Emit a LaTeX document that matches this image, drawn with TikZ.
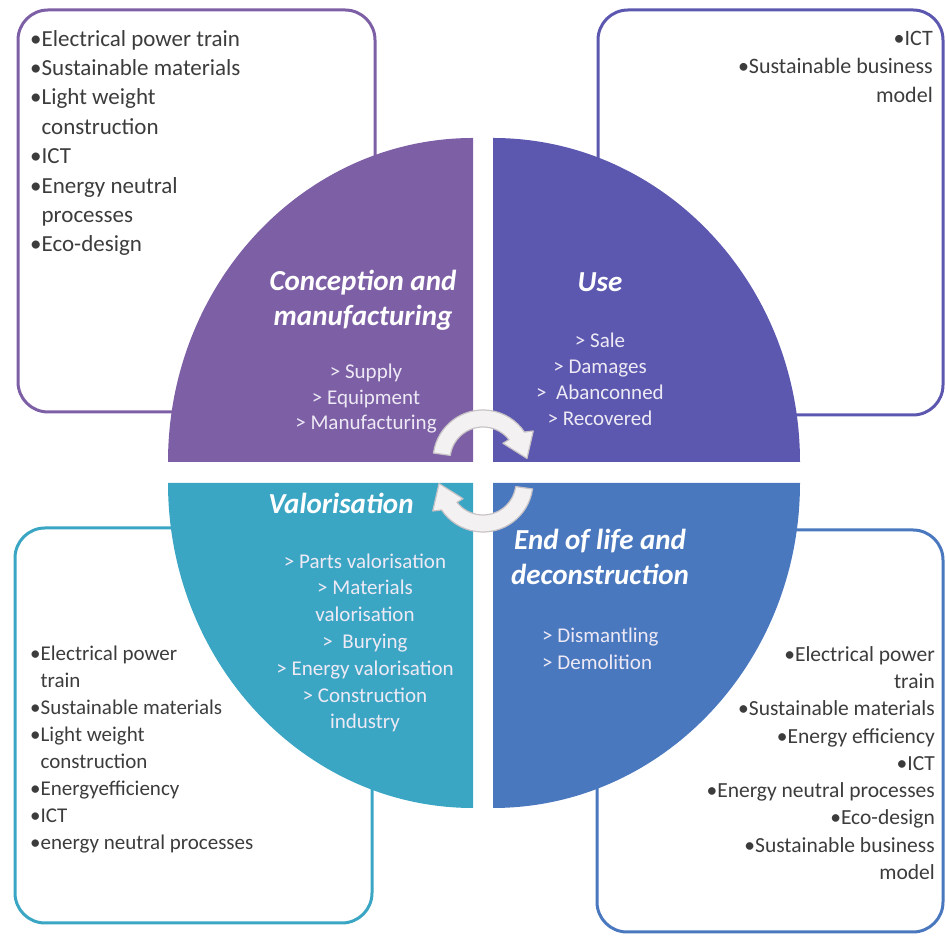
\documentclass[tikz,border=0pt]{standalone}
\usepackage{fontspec}
\setmainfont{Carlito}
\definecolor{conceptcol}{HTML}{7D5FA6}
\definecolor{usecol}{HTML}{5C58B0}
\definecolor{valocol}{HTML}{3BA6C4}
\definecolor{eolcol}{HTML}{4A78BF}
\definecolor{listgray}{HTML}{3C3C3C}
\definecolor{sublight}{HTML}{EEEAF5}
\definecolor{arrowedge}{HTML}{C8C3C6}
\definecolor{arrowface}{HTML}{F4F1F2}
\begin{document}
\begin{tikzpicture}[x=1pt,y=1pt,
        frame/.style={line width=3pt,rounded corners=30pt},
        title/.style={font=\fontsize{29}{35}\selectfont\bfseries\itshape,text=white,align=center,inner sep=0pt},
        steps/.style={font=\fontsize{21}{#1}\selectfont,text=sublight,inner sep=0pt},
        list/.style={text=listgray,inner sep=0pt},
        turn/.style={fill=arrowface,draw=arrowedge,line width=1.2pt,line join=round}]
        \useasboundingbox (0,0) rectangle (946,936);
        % frames behind the disc
        \draw[frame,draw=conceptcol] (18,524) rectangle (375,926);
        \draw[frame,draw=usecol] (598,521) rectangle (943,926);
        \draw[frame,draw=valocol] (15,13) rectangle (372,408);
        \draw[frame,draw=eolcol] (597,4) rectangle (943,406);
        % four quarters
        \fill[conceptcol] (473,474) -- (168,474) arc[start angle=180,end angle=90,x radius=305,y radius=324] -- cycle;
        \fill[usecol] (493,474) -- (493,798) arc[start angle=90,end angle=0,x radius=307,y radius=324] -- cycle;
        \fill[valocol] (473,453) -- (473,128) arc[start angle=270,end angle=180,x radius=305,y radius=325] -- cycle;
        \fill[eolcol] (493,453) -- (800,453) arc[start angle=0,end angle=-90,x radius=307,y radius=325] -- cycle;
        % conception and manufacturing
        \node[title] (concept) at (363,636) {Conception and\\manufacturing};
        \node[steps=25.5,align=center] (conceptsteps) at (366,537) {> Supply\\> Equipment\\> Manufacturing};
        \node[list,font=\fontsize{23}{29.4}\selectfont,anchor=north west,align=left] (conceptlist) at (30,906) {\textbullet Electrical power train\\\textbullet Sustainable materials\\\textbullet Light weight\\\phantom{\textbullet}construction\\\textbullet ICT\\\textbullet Energy neutral\\\phantom{\textbullet}processes\\\textbullet Eco-design};
        % use
        \node[title] (use) at (600,654) {Use};
        \node[steps=26,align=center] (usesteps) at (600,557) {> Sale\\> Damages\\> \ Abanconned\\> Recovered};
        \node[list,font=\fontsize{22}{28.5}\selectfont,anchor=north east,align=right] (uselist) at (933,905) {\textbullet ICT\\\textbullet Sustainable business\\model};
        % valorisation
        \node[title] (valo) at (341,433) {Valorisation};
        \node[steps=26.8,align=center] (valosteps) at (365,293) {> Parts valorisation\\> Materials\\valorisation\\> \ Burying\\> Energy valorisation\\> Construction\\industry};
        \node[list,font=\fontsize{21}{26.9}\selectfont,anchor=north west,align=left] (valolist) at (30,290) {\textbullet Electrical power\\\phantom{\textbullet}train\\\textbullet Sustainable materials\\\textbullet Light weight\\\phantom{\textbullet}construction\\\textbullet Energyefficiency\\\textbullet ICT\\\textbullet energy neutral processes};
        % end of life
        \node[title] (eol) at (600,379) {End of life and\\deconstruction};
        \node[steps=27,anchor=west,align=left] (eolsteps) at (542,287) {> Dismantling\\> Demolition};
        \node[list,font=\fontsize{21.5}{27.3}\selectfont,anchor=north east,align=right] (eollist) at (935,290) {\textbullet Electrical power\\train\\\textbullet Sustainable materials\\\textbullet Energy efficiency\\\textbullet ICT\\\textbullet Energy neutral processes\\\textbullet Eco-design\\\textbullet Sustainable business\\model};
        % turning arrows
        \begin{scope}[shift={(483,476)}]
            \draw[turn] (172:50) arc[start angle=172,end angle=34,radius=50] -- (30:58) -- (2:44) -- (40:26) -- (38:33) arc[start angle=38,end angle=172,radius=33] -- cycle;
        \end{scope}
        \begin{scope}[shift={(483,454)}]
            \draw[turn] (-8:50) arc[start angle=-8,end angle=-146,radius=50] -- (-150:58) -- (-178:44) -- (-140:26) -- (-142:33) arc[start angle=-142,end angle=-8,radius=33] -- cycle;
        \end{scope}
    \end{tikzpicture}
\end{document}
